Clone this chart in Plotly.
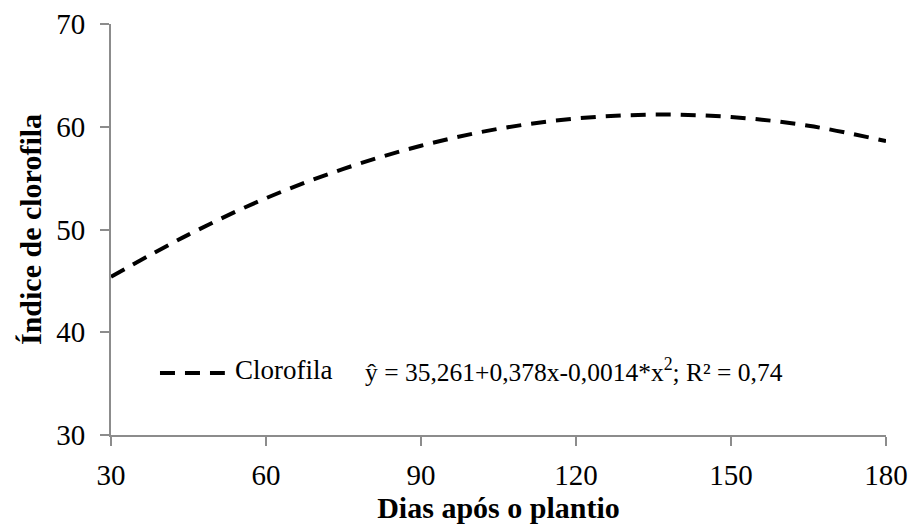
import plotly.graph_objects as go

# Data
dias = [30, 45, 60, 75, 90, 105, 120, 135, 150, 165, 180]
clorofila = [45.4, 49.5, 53.05, 55.9, 58.15, 59.8, 60.8, 61.18, 60.95, 60.1, 58.6]
x_ticks = [30, 60, 90, 120, 150, 180]
y_ticks = [30, 40, 50, 60, 70]
series_name = "Clorofila"
equation = "ŷ = 35,261+0,378x-0,0014*x<sup>2</sup>; R² = 0,74"
x_title = "Dias após o plantio"
y_title = "Índice de clorofila"

FONT = "Times New Roman, Liberation Serif, serif"
AXIS_COLOR = "#8c8c8c"
DASH = "15px,10px"

fig = go.Figure()
fig.add_trace(go.Scatter(
    x=dias, y=clorofila, mode="lines", name=series_name,
    line=dict(color="black", width=4, dash=DASH, shape="spline", smoothing=1.0),
    showlegend=False,
))

axis_common = dict(
    showgrid=False, zeroline=False, showline=True, linecolor=AXIS_COLOR, linewidth=2,
    ticks="outside", ticklen=9, tickwidth=1.5, tickcolor=AXIS_COLOR,
    tickfont=dict(family=FONT, size=29, color="black"),
    fixedrange=True, automargin=False,
)

fig.update_xaxes(
    range=[30, 180], tickvals=x_ticks, ticktext=[str(v) for v in x_ticks],
    title=dict(text=f"<b>{x_title}</b>", font=dict(family=FONT, size=30, color="black"), standoff=6),
    ticklabelstandoff=4,
    **axis_common,
)
fig.update_yaxes(
    range=[30, 70], tickvals=y_ticks, ticktext=[str(v) for v in y_ticks],
    title=dict(text=f"<b>{y_title}</b>", font=dict(family=FONT, size=30, color="black"), standoff=6),
    ticklabelstandoff=9,
    **axis_common,
)

# Legend drawn inside the plot area
fig.add_shape(type="line", xref="paper", yref="paper",
              x0=0.0632, x1=0.1469, y0=0.151, y1=0.151,
              line=dict(color="black", width=4, dash=DASH))
fig.add_annotation(xref="paper", yref="paper", x=0.158, y=0.158,
                   xanchor="left", yanchor="middle", showarrow=False,
                   text=series_name, font=dict(family=FONT, size=27, color="black"))
fig.add_annotation(xref="paper", yref="paper", x=0.3256, y=0.158,
                   xanchor="left", yanchor="middle", showarrow=False,
                   text=equation, font=dict(family=FONT, size=25.5, color="black"))

fig.update_layout(
    width=910, height=527,
    margin=dict(l=110.5, r=24, t=24.3, b=92, pad=0),
    paper_bgcolor="white", plot_bgcolor="white",
    font=dict(family=FONT, color="black"),
    hovermode=False,
)

# remove the browser's default 8px body margin so the figure fills the window
fig.write_html("out.html",
               config={"displayModeBar": False, "staticPlot": False},
               post_script="document.body.style.margin='0';document.body.style.overflow='hidden';")
